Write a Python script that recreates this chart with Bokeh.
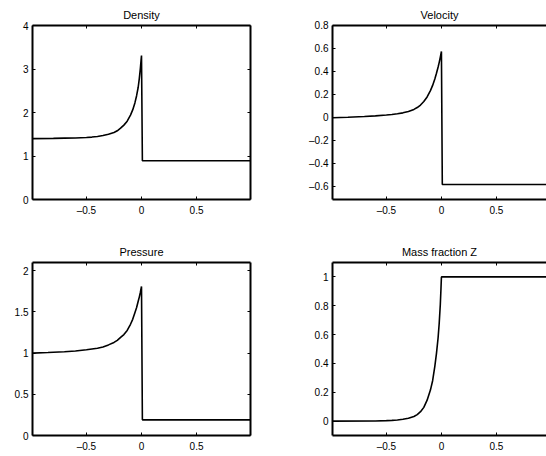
from bokeh.plotting import figure
from bokeh.layouts import gridplot
from bokeh.models import Range1d, LinearAxis, FixedTicker
from bokeh.embed import file_html
from bokeh.resources import INLINE

# ---------------- data ----------------
x_ticks = [-0.5, 0.0, 0.5]
x_tick_labels = ["\u20130.5", "0", "0.5"]

density_x = [-0.99, -0.8, -0.7, -0.6, -0.5, -0.45, -0.4, -0.35, -0.3, -0.25, -0.22, -0.19,
             -0.16, -0.13, -0.1, -0.08, -0.06, -0.045, -0.03, -0.02, -0.01, -0.004, 0.0,
             0.008, 0.99]
density_y = [1.400, 1.405, 1.41, 1.415, 1.425, 1.435, 1.45, 1.47, 1.50, 1.54, 1.58, 1.64,
             1.71, 1.80, 1.94, 2.06, 2.22, 2.38, 2.58, 2.78, 3.02, 3.20, 3.31,
             0.89, 0.89]
density_yticks = [0, 1, 2, 3, 4]
density_ylabels = ["0", "1", "2", "3", "4"]

velocity_x = [-0.99, -0.85, -0.7, -0.6, -0.5, -0.45, -0.4, -0.35, -0.3, -0.25, -0.22, -0.19,
              -0.16, -0.13, -0.1, -0.08, -0.06, -0.045, -0.03, -0.02, -0.01, 0.0,
              0.008, 0.99]
velocity_y = [0.0, 0.004, 0.01, 0.016, 0.023, 0.028, 0.034, 0.042, 0.054, 0.072, 0.088, 0.11,
              0.14, 0.18, 0.235, 0.28, 0.335, 0.385, 0.44, 0.48, 0.525, 0.575,
              -0.58, -0.58]
velocity_yticks = [-0.6, -0.4, -0.2, 0.0, 0.2, 0.4, 0.6, 0.8]
velocity_ylabels = ["\u20130.6", "\u20130.4", "\u20130.2", "0", "0.2", "0.4", "0.6", "0.8"]

pressure_x = [-0.99, -0.85, -0.7, -0.6, -0.5, -0.45, -0.4, -0.35, -0.3, -0.25, -0.22, -0.19,
              -0.16, -0.13, -0.1, -0.08, -0.06, -0.045, -0.03, -0.02, -0.01, 0.0,
              0.008, 0.99]
pressure_y = [1.0, 1.007, 1.017, 1.026, 1.04, 1.05, 1.06, 1.075, 1.10, 1.13, 1.155, 1.19,
              1.225, 1.275, 1.35, 1.41, 1.49, 1.55, 1.63, 1.68, 1.74, 1.81,
              0.19, 0.19]
pressure_yticks = [0, 0.5, 1, 1.5, 2]
pressure_ylabels = ["0", "0.5", "1", "1.5", "2"]

massfrac_x = [-0.99, -0.6, -0.5, -0.45, -0.4, -0.35, -0.3, -0.25, -0.22, -0.19, -0.16,
              -0.13, -0.1, -0.08, -0.06, -0.045, -0.03, -0.02, -0.01, -0.004, 0.0, 0.99]
massfrac_y = [0.0, 0.001, 0.003, 0.005, 0.008, 0.013, 0.02, 0.032, 0.045, 0.065, 0.095,
              0.145, 0.215, 0.28, 0.38, 0.47, 0.58, 0.68, 0.81, 0.92, 1.0, 1.0]
massfrac_yticks = [0, 0.2, 0.4, 0.6, 0.8, 1.0]
massfrac_ylabels = ["0", "0.2", "0.4", "0.6", "0.8", "1"]

FONT = "Liberation Sans"


def style_axis(ax, ticks, labels, show_labels=True):
    ax.ticker = FixedTicker(ticks=list(ticks))
    ax.axis_line_color = "black"
    ax.axis_line_width = 2
    ax.major_tick_line_color = "black"
    ax.major_tick_line_width = 1
    ax.major_tick_in = 3
    ax.major_tick_out = 0
    ax.minor_tick_line_color = None
    ax.major_label_text_font = FONT
    if show_labels:
        ax.major_label_overrides = {float(t): l for t, l in zip(ticks, labels)}
        ax.major_label_text_color = "black"
        ax.major_label_text_font_size = "10px"
    else:
        ax.major_label_text_color = None
        ax.major_label_text_font_size = "0px"
        ax.major_label_standoff = 0


def make(title, xs, ys, yr, yticks, ylabels, xr, width, height,
         bl, br, bt, bb, right_box=True):
    p = figure(width=width, height=height, x_range=Range1d(*xr), y_range=Range1d(*yr),
               output_backend="svg", toolbar_location=None, tools="",
               min_border_left=bl, min_border_right=br,
               min_border_top=bt, min_border_bottom=bb, title=title)
    p.outline_line_color = None
    p.background_fill_color = "white"
    p.border_fill_color = "white"
    p.xgrid.visible = False
    p.ygrid.visible = False
    p.title.align = "center"
    p.title.text_font = FONT
    p.title.text_font_size = "11px"
    p.title.text_font_style = "normal"
    p.title.text_color = "black"
    p.title.standoff = 10

    style_axis(p.xaxis[0], x_ticks, x_tick_labels)
    p.xaxis[0].major_label_standoff = 5
    style_axis(p.yaxis[0], yticks, ylabels)
    p.yaxis[0].major_label_standoff = 4

    top = LinearAxis()
    style_axis(top, x_ticks, x_tick_labels, show_labels=False)
    p.add_layout(top, "above")
    if right_box:
        rt = LinearAxis()
        style_axis(rt, yticks, ylabels, show_labels=False)
        p.add_layout(rt, "right")

    p.line(xs, ys, line_color="black", line_width=1.6)
    return p


x_left = (-0.99, 0.99)
x_right = (-0.99, 0.955)

p1 = make("Density", density_x, density_y, (0, 4), density_yticks, density_ylabels,
          x_left, 290, 227, 32, 40, 25, 28)
p2 = make("Velocity", velocity_x, velocity_y, (-0.71, 0.8), velocity_yticks, velocity_ylabels,
          x_right, 256, 227, 42, 0, 25, 28, right_box=False)
p3 = make("Pressure", pressure_x, pressure_y, (0, 2.1), pressure_yticks, pressure_ylabels,
          x_left, 290, 228, 32, 40, 35, 20)
p4 = make("Mass fraction Z", massfrac_x, massfrac_y, (-0.1, 1.1), massfrac_yticks, massfrac_ylabels,
          x_right, 256, 228, 42, 0, 35, 20, right_box=False)

grid = gridplot([[p1, p2], [p3, p4]], toolbar_location=None)

open("out.html", "w").write(file_html(grid, INLINE))
